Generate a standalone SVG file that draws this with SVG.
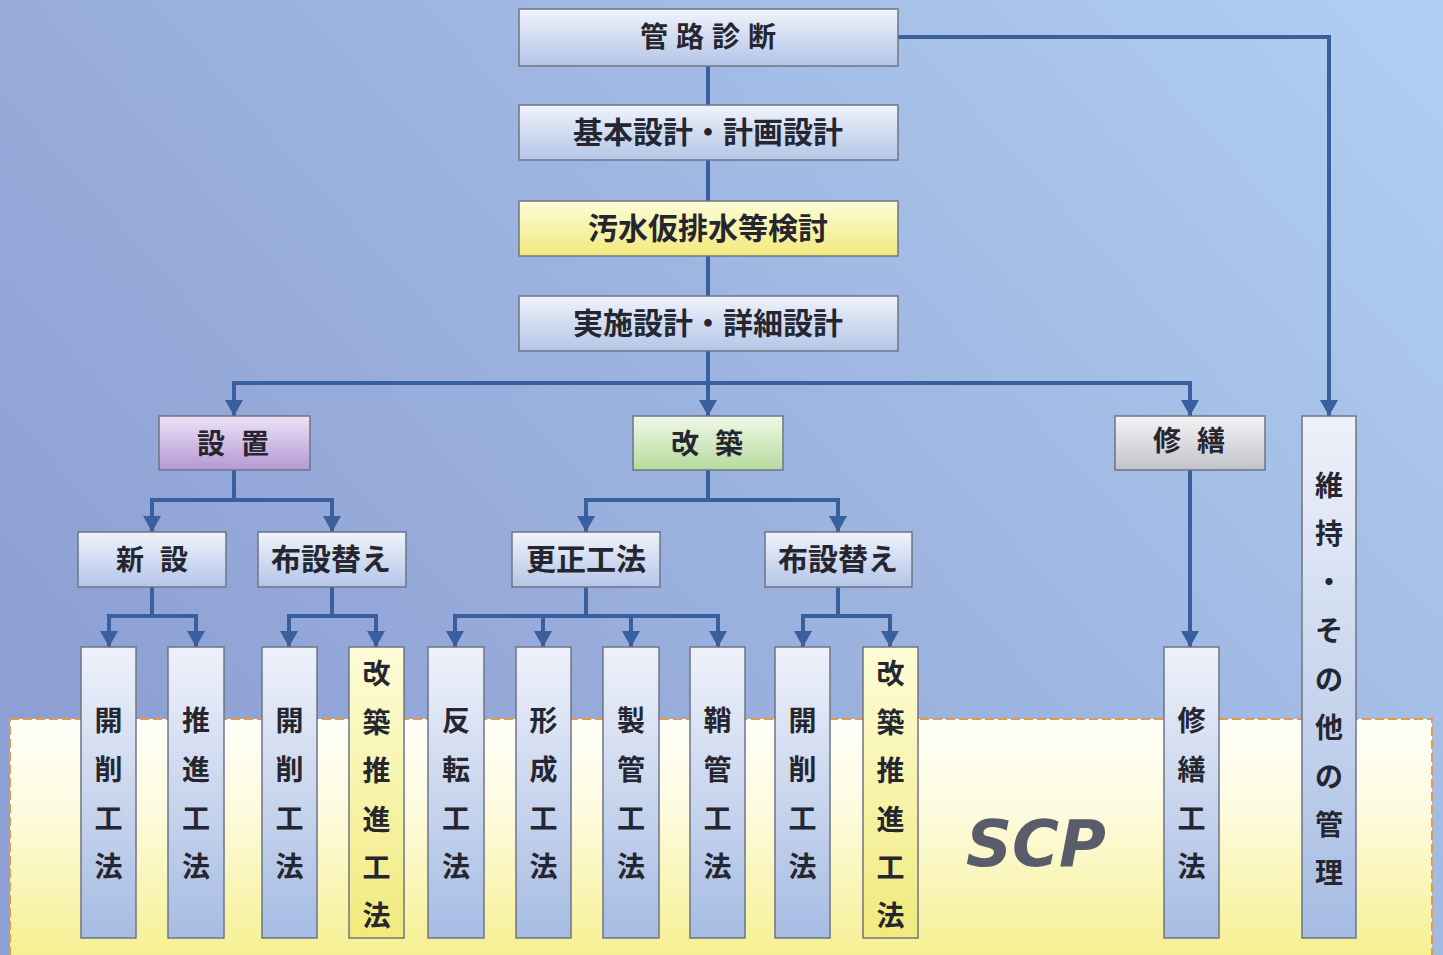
<svg xmlns="http://www.w3.org/2000/svg" width="1443" height="955" viewBox="0 0 1443 955">
<defs>
<linearGradient id="bg" x1="0" y1="0.7" x2="1" y2="0.1">
<stop offset="0" stop-color="#8d9fd3"/>
<stop offset="0.5" stop-color="#9db4e0"/>
<stop offset="1" stop-color="#afcdf0"/>
</linearGradient>
<linearGradient id="scp" x1="0" y1="0" x2="0" y2="1">
<stop offset="0" stop-color="#fffffa"/>
<stop offset="0.35" stop-color="#fdfbe0"/>
<stop offset="1" stop-color="#f6ef8c"/>
</linearGradient>
<linearGradient id="gBlue" x1="0" y1="0" x2="0" y2="1">
<stop offset="0" stop-color="#f0f3fb"/>
<stop offset="1" stop-color="#b3c5e7"/>
</linearGradient>
<linearGradient id="gVBlue" x1="0" y1="0" x2="0" y2="1">
<stop offset="0" stop-color="#eef1fa"/>
<stop offset="1" stop-color="#a6bce3"/>
</linearGradient>
<linearGradient id="gYellow" x1="0" y1="0" x2="0" y2="1">
<stop offset="0" stop-color="#fdfcd8"/>
<stop offset="1" stop-color="#f1ea7c"/>
</linearGradient>
<linearGradient id="gPurple" x1="0" y1="0" x2="0" y2="1">
<stop offset="0" stop-color="#ede2f6"/>
<stop offset="1" stop-color="#b498d5"/>
</linearGradient>
<linearGradient id="gGreen" x1="0" y1="0" x2="0" y2="1">
<stop offset="0" stop-color="#f1f8e8"/>
<stop offset="1" stop-color="#b5da9c"/>
</linearGradient>
<linearGradient id="gGray" x1="0" y1="0" x2="0" y2="1">
<stop offset="0" stop-color="#f4f4f6"/>
<stop offset="1" stop-color="#c2c2ca"/>
</linearGradient>
<marker id="ah" viewBox="0 0 16 18" refX="16" refY="9" markerWidth="16" markerHeight="18" markerUnits="userSpaceOnUse" orient="auto">
<path d="M0,0 L16,9 L0,18 z" fill="#3a5f9e"/>
</marker>
</defs>
<style>
.box{stroke:#6f7484;stroke-width:1.5}
.b{fill:url(#gBlue)}
.vb{fill:url(#gVBlue)}
.y{fill:url(#gYellow)}
.p{fill:url(#gPurple)}
.g{fill:url(#gGreen)}
.gr{fill:url(#gGray)}
.t{font-family:"Noto Sans CJK JP","Noto Sans CJK SC",sans-serif;font-weight:700;font-size:28px;fill:#262630;text-anchor:middle}
.l{font-size:30px}
.conn path{fill:none;stroke:#3a5f9e;stroke-width:4;stroke-linejoin:miter}
.arr{marker-end:url(#ah)}
</style>
<rect x="0" y="0" width="1443" height="955" fill="url(#bg)"/>
<g id="scp-area">
<rect x="10" y="719" width="1422" height="250" fill="url(#scp)" stroke="#e59a45" stroke-width="2" stroke-dasharray="9 4"/>
<text x="1036" y="866" text-anchor="middle" font-family="DejaVu Sans, sans-serif" font-weight="700" font-style="italic" font-size="64" fill="#5b5c6b">SCP</text>
</g>
<g class="conn" id="connectors">
<path d="M708,66 V105"/>
<path d="M708,160 V201"/>
<path d="M708,256 V296"/>
<path class="arr" d="M708,351 V416"/>
<path class="arr" d="M708,383 H234 V416"/>
<path class="arr" d="M708,383 H1190 V416"/>
<path class="arr" d="M898,37 H1329 V416"/>
<path class="arr" d="M234,470 V500 H152 V532"/>
<path class="arr" d="M234,500 H332 V532"/>
<path class="arr" d="M152,587 V616 H109 V647"/>
<path class="arr" d="M152,616 H196 V647"/>
<path class="arr" d="M332,587 V616 H289 V647"/>
<path class="arr" d="M332,616 H376 V647"/>
<path class="arr" d="M708,470 V500 H586 V532"/>
<path class="arr" d="M708,500 H838 V532"/>
<path class="arr" d="M586,587 V616 H455 V647"/>
<path class="arr" d="M586,616 H543 V647"/>
<path class="arr" d="M586,616 H631 V647"/>
<path class="arr" d="M586,616 H718 V647"/>
<path class="arr" d="M838,587 V616 H803 V647"/>
<path class="arr" d="M838,616 H890 V647"/>
<path class="arr" d="M1190,470 V647"/>
</g>
<g id="n-kanro">
<rect class="box b" x="519" y="9" width="379" height="57"/>
<text class="t" x="712" y="47" letter-spacing="8">管路診断</text>
</g>
<g id="n-kihon">
<rect class="box b" x="519" y="105" width="379" height="55"/>
<text class="t l" x="708" y="143">基本設計・計画設計</text>
</g>
<g id="n-osui">
<rect class="box y" x="519" y="201" width="379" height="55"/>
<text class="t l" x="708" y="239">汚水仮排水等検討</text>
</g>
<g id="n-jisshi">
<rect class="box b" x="519" y="296" width="379" height="55"/>
<text class="t l" x="708" y="334">実施設計・詳細設計</text>
</g>
<g id="n-setchi">
<rect class="box p" x="159" y="416" width="151" height="54"/>
<text class="t" x="241" y="454" letter-spacing="16">設置</text>
</g>
<g id="n-kaichiku">
<rect class="box g" x="633" y="416" width="150" height="54"/>
<text class="t" x="715" y="454" letter-spacing="16">改築</text>
</g>
<g id="n-shuzen">
<rect class="box gr" x="1115" y="416" width="150" height="54"/>
<text class="t" x="1197" y="451" letter-spacing="16">修繕</text>
</g>
<g id="n-shinsetsu">
<rect class="box b" x="78" y="532" width="148" height="55"/>
<text class="t" x="160" y="570" letter-spacing="16">新設</text>
</g>
<g id="n-fusetsu1">
<rect class="box b" x="258" y="532" width="148" height="55"/>
<text class="t l" x="331" y="570">布設替え</text>
</g>
<g id="n-kosei">
<rect class="box b" x="512" y="532" width="148" height="55"/>
<text class="t l" x="586" y="570">更正工法</text>
</g>
<g id="n-fusetsu2">
<rect class="box b" x="765" y="532" width="147" height="55"/>
<text class="t l" x="838" y="570">布設替え</text>
</g>
<g id="n-kaisaku1">
<rect class="box vb" x="81" y="647" width="55" height="291"/>
<text class="t" x="108.5"><tspan x="108.5" y="731">開</tspan><tspan x="108.5" y="780">削</tspan><tspan x="108.5" y="829">工</tspan><tspan x="108.5" y="877">法</tspan></text>
</g>
<g id="n-suishin">
<rect class="box vb" x="168" y="647" width="56" height="291"/>
<text class="t" x="196"><tspan x="196" y="731">推</tspan><tspan x="196" y="780">進</tspan><tspan x="196" y="829">工</tspan><tspan x="196" y="877">法</tspan></text>
</g>
<g id="n-kaisaku2">
<rect class="box vb" x="262" y="647" width="55" height="291"/>
<text class="t" x="289.5"><tspan x="289.5" y="731">開</tspan><tspan x="289.5" y="780">削</tspan><tspan x="289.5" y="829">工</tspan><tspan x="289.5" y="877">法</tspan></text>
</g>
<g id="n-kaichikusuishin1">
<rect class="box y" x="349" y="647" width="55" height="291"/>
<text class="t" x="376.5"><tspan x="376.5" y="684">改</tspan><tspan x="376.5" y="733">築</tspan><tspan x="376.5" y="781">推</tspan><tspan x="376.5" y="830">進</tspan><tspan x="376.5" y="878">工</tspan><tspan x="376.5" y="926">法</tspan></text>
</g>
<g id="n-hanten">
<rect class="box vb" x="428" y="647" width="56" height="291"/>
<text class="t" x="456"><tspan x="456" y="731">反</tspan><tspan x="456" y="780">転</tspan><tspan x="456" y="829">工</tspan><tspan x="456" y="877">法</tspan></text>
</g>
<g id="n-keisei">
<rect class="box vb" x="516" y="647" width="55" height="291"/>
<text class="t" x="543.5"><tspan x="543.5" y="731">形</tspan><tspan x="543.5" y="780">成</tspan><tspan x="543.5" y="829">工</tspan><tspan x="543.5" y="877">法</tspan></text>
</g>
<g id="n-seikan">
<rect class="box vb" x="603" y="647" width="56" height="291"/>
<text class="t" x="631"><tspan x="631" y="731">製</tspan><tspan x="631" y="780">管</tspan><tspan x="631" y="829">工</tspan><tspan x="631" y="877">法</tspan></text>
</g>
<g id="n-sayakan">
<rect class="box vb" x="690" y="647" width="55" height="291"/>
<text class="t" x="717.5"><tspan x="717.5" y="731">鞘</tspan><tspan x="717.5" y="780">管</tspan><tspan x="717.5" y="829">工</tspan><tspan x="717.5" y="877">法</tspan></text>
</g>
<g id="n-kaisaku3">
<rect class="box vb" x="775" y="647" width="55" height="291"/>
<text class="t" x="802.5"><tspan x="802.5" y="731">開</tspan><tspan x="802.5" y="780">削</tspan><tspan x="802.5" y="829">工</tspan><tspan x="802.5" y="877">法</tspan></text>
</g>
<g id="n-kaichikusuishin2">
<rect class="box y" x="863" y="647" width="55" height="291"/>
<text class="t" x="890.5"><tspan x="890.5" y="684">改</tspan><tspan x="890.5" y="733">築</tspan><tspan x="890.5" y="781">推</tspan><tspan x="890.5" y="830">進</tspan><tspan x="890.5" y="878">工</tspan><tspan x="890.5" y="926">法</tspan></text>
</g>
<g id="n-shuzenkoho">
<rect class="box vb" x="1164" y="647" width="55" height="291"/>
<text class="t" x="1191.5"><tspan x="1191.5" y="731">修</tspan><tspan x="1191.5" y="780">繕</tspan><tspan x="1191.5" y="829">工</tspan><tspan x="1191.5" y="877">法</tspan></text>
</g>
<g id="n-iji">
<rect class="box vb" x="1302" y="416" width="54" height="522"/>
<text class="t" x="1329"><tspan x="1329" y="496">維</tspan><tspan x="1329" y="544">持</tspan><tspan x="1329" y="593">・</tspan><tspan x="1329" y="641">そ</tspan><tspan x="1329" y="690">の</tspan><tspan x="1329" y="738">他</tspan><tspan x="1329" y="787">の</tspan><tspan x="1329" y="835">管</tspan><tspan x="1329" y="883">理</tspan></text>
</g>
</svg>
